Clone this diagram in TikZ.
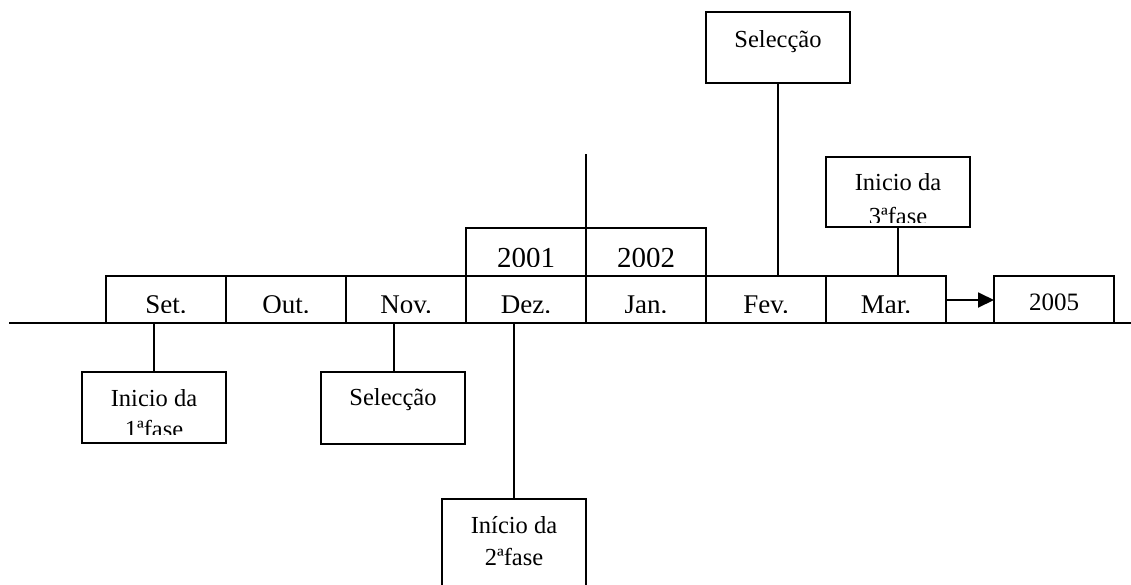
\documentclass[tikz,border=0pt]{standalone}
\usepackage{fontspec}
\setmainfont{Liberation Serif}
\usetikzlibrary{arrows.meta}
\tikzset{
  ln/.style={line width=1.8pt, line cap=rect},
  box/.style={draw, line width=1.8pt, inner sep=0pt, outer sep=0pt, anchor=north west},
  mtxt/.style={anchor=base, inner sep=0pt, font=\fontsize{27}{32}\selectfont},
  ytxt/.style={anchor=base, inner sep=0pt, font=\fontsize{29}{34}\selectfont},
  ltxt/.style={anchor=base, inner sep=0pt, font=\fontsize{24.5}{30}\selectfont},
}
\begin{document}
\begin{tikzpicture}[x=1pt, y=-1pt]
\useasboundingbox (0,0) rectangle (1131,584);
% main axis
\coordinate (axL) at (9,323);
\coordinate (axR) at (1131,323);
\draw[line width=1.8pt] (axL) -- (axR);
% month boxes
\foreach \n/\x/\t in {set/106/Set., out/226/Out., nov/346/Nov., dez/466/Dez., jan/586/Jan., fev/706/Fev., mar/826/Mar.}{
  \node[box, minimum width=120pt, minimum height=47pt] (\n) at (\x,276) {};
  \begin{scope}
    \clip (\x,277) rectangle ({\x+120},312);
    \node[mtxt] (\n t) at ({\x+60},313.5) {\t};
  \end{scope}
}
% year boxes
\foreach \n/\x/\t in {y2001/466/2001, y2002/586/2002}{
  \node[box, minimum width=120pt, minimum height=48pt] (\n) at (\x,228) {};
  \begin{scope}
    \clip (\x,229) rectangle ({\x+120},266);
    \node[ytxt] (\n t) at ({\x+60},267.5) {\t};
  \end{scope}
}
% 2005
\node[box, minimum width=120pt, minimum height=47pt] (y2005) at (994,276) {};
\node[anchor=base, inner sep=0pt, font=\fontsize{25}{30}\selectfont] (y2005t) at (1054,310) {2005};
\draw[line width=1.8pt, -{Triangle[length=16pt,width=15pt]}] (mar.east |- 0,300) -- (y2005.west |- 0,300);
% vertical line above years
\coordinate (ytop) at (586,155);
\draw[ln] (y2001.north east) -- (ytop);
% top Seleccao
\node[box, minimum width=144pt, minimum height=71pt] (selT) at (706,12) {};
\node[ltxt] (selTt) at (778,47) {Selecção};
\draw[ln] (selT.south) -- (selT.south |- fev.north);
% Inicio da 3a fase
\node[box, minimum width=144pt, minimum height=70pt] (f3) at (826,157) {};
\begin{scope}
  \clip (826,158) rectangle (970,222.5);
  \node[ltxt] (f3a) at (898,190.5) {Inicio da};
  \node[ltxt] (f3b) at (898,224) {3ªfase};
\end{scope}
\draw[ln] (f3.south -| 898,0) -- (898,276);
% Inicio da 1a fase
\node[box, minimum width=144pt, minimum height=71pt] (f1) at (82,372) {};
\begin{scope}
  \clip (82,373) rectangle (226,434);
  \node[ltxt] (f1a) at (154,406) {Inicio da};
  \node[ltxt] (f1b) at (154,437.5) {1ªfase};
\end{scope}
\draw[ln] (f1.north -| 154,0) -- (154,323);
% lower Seleccao
\node[box, minimum width=144pt, minimum height=72pt] (selB) at (321,372) {};
\node[ltxt] (selBt) at (393,405) {Selecção};
\draw[ln] (selB.north -| 394,0) -- (394,323);
% Inicio da 2a fase
\node[box, minimum width=144pt, minimum height=100pt] (f2) at (442,499) {};
\node[ltxt] (f2a) at (514,533) {Início da};
\node[ltxt] (f2b) at (514,565) {2ªfase};
\draw[ln] (f2.north -| 514,0) -- (514,323);
\end{tikzpicture}
\end{document}
